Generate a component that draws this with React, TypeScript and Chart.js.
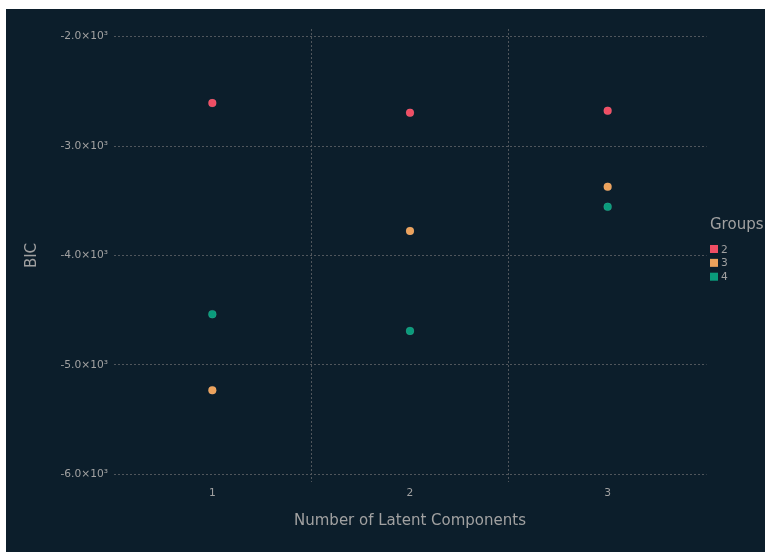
import React, { useEffect, useRef } from "react";
import { Chart, registerables } from "chart.js";

Chart.register(...registerables);

// BIC by number of latent components, one series per group count
const components = [1, 2, 3];
const groups = ["2", "3", "4"];
const bicGroup2 = [-2607, -2695, -2677];
const bicGroup3 = [-5231, -3775, -3372];
const bicGroup4 = [-4536, -4689, -3555];
const yTicks = [-6000, -5000, -4000, -3000, -2000];
const yTickLabels = ["-6.0×10³", "-5.0×10³", "-4.0×10³", "-3.0×10³", "-2.0×10³"];
const xTickLabels = ["1", "2", "3"];

const groupColors = ["#f04e64", "#eca25c", "#0a9c7c"];
const background = "#0c1e2b";
const labelColor = "#a1a1a1";
const gridColor = "#50565c";
const fontFamily = '"DejaVu Sans", sans-serif';

const seriesValues = [bicGroup2, bicGroup3, bicGroup4];

// Key drawn at the right of the panel: title, then one swatch per group
const groupsKey = {
  id: "groupsKey",
  afterDraw(chart: any) {
    const ctx = chart.ctx as CanvasRenderingContext2D;
    ctx.save();
    ctx.textBaseline = "alphabetic";
    ctx.textAlign = "left";
    ctx.fillStyle = labelColor;
    ctx.font = `15px ${fontFamily}`;
    ctx.fillText("Groups", 704, 219.5);
    ctx.font = `10.67px ${fontFamily}`;
    groups.forEach((g, i) => {
      const y = 236 + i * 13.85;
      ctx.fillStyle = groupColors[i];
      ctx.fillRect(704, y, 8, 8);
      ctx.fillStyle = labelColor;
      ctx.fillText(g, 715, y + 7.6);
    });
    ctx.restore();
  },
};

export default function App() {
  const canvasRef = useRef<HTMLCanvasElement | null>(null);

  useEffect(() => {
    if (!canvasRef.current) return;
    const chart = new Chart(canvasRef.current, {
      type: "scatter",
      data: {
        datasets: groups.map((g, i) => ({
          label: g,
          data: components.map((c, j) => ({ x: c, y: seriesValues[i][j] })),
          backgroundColor: groupColors[i],
          borderColor: "rgba(255,255,255,0.12)",
          borderWidth: 0.6,
          pointRadius: 4,
          pointHoverRadius: 4,
        })),
      },
      options: {
        responsive: false,
        animation: false,
        events: [],
        layout: { padding: { left: 0, right: 58.5, top: 20, bottom: 0 } },
        plugins: {
          legend: { display: false },
          tooltip: { enabled: false },
        },
        scales: {
          x: {
            type: "linear",
            min: 0.5,
            max: 3.5,
            afterBuildTicks: (scale: any) => {
              scale.ticks = [1, 1.5, 2, 2.5, 3].map((v) => ({ value: v }));
            },
            afterFit: (scale: any) => {
              scale.height = 70;
            },
            border: { display: false, dash: [2, 2] },
            grid: {
              drawTicks: false,
              lineWidth: 1,
              color: (ctx: any) =>
                ctx.tick && Number.isInteger(ctx.tick.value) ? "rgba(0,0,0,0)" : gridColor,
            },
            ticks: {
              autoSkip: false,
              maxRotation: 0,
              padding: 4.5,
              color: labelColor,
              font: { family: fontFamily, size: 10.67 },
              callback: (v: any) => {
                const idx = components.indexOf(Number(v));
                return idx >= 0 ? xTickLabels[idx] : "";
              },
            },
            title: {
              display: true,
              text: "Number of Latent Components",
              color: labelColor,
              font: { family: fontFamily, size: 15 },
              padding: { top: 0, bottom: 21.5 },
            },
          },
          y: {
            type: "linear",
            min: -6070,
            max: -1930,
            afterBuildTicks: (scale: any) => {
              scale.ticks = yTicks.map((v) => ({ value: v }));
            },
            afterFit: (scale: any) => {
              scale.width = 107.5;
            },
            border: { display: false, dash: [2, 2] },
            grid: {
              drawTicks: false,
              lineWidth: 1,
              color: gridColor,
            },
            ticks: {
              autoSkip: false,
              padding: 5.5,
              color: labelColor,
              font: { family: fontFamily, size: 10.67 },
              callback: (v: any) => {
                const idx = yTicks.indexOf(Number(v));
                return idx >= 0 ? yTickLabels[idx] : "";
              },
            },
            title: {
              display: true,
              text: "BIC",
              color: labelColor,
              font: { family: fontFamily, size: 15 },
              padding: { top: 17, bottom: 0 },
            },
          },
        },
      },
      plugins: [groupsKey],
    });
    return () => chart.destroy();
  }, []);

  return (
    <div
      style={{
        position: "absolute",
        left: 6,
        top: 9,
        width: 759,
        height: 543,
        background,
      }}
    >
      <canvas ref={canvasRef} width={759} height={543} style={{ display: "block" }} />
    </div>
  );
}
